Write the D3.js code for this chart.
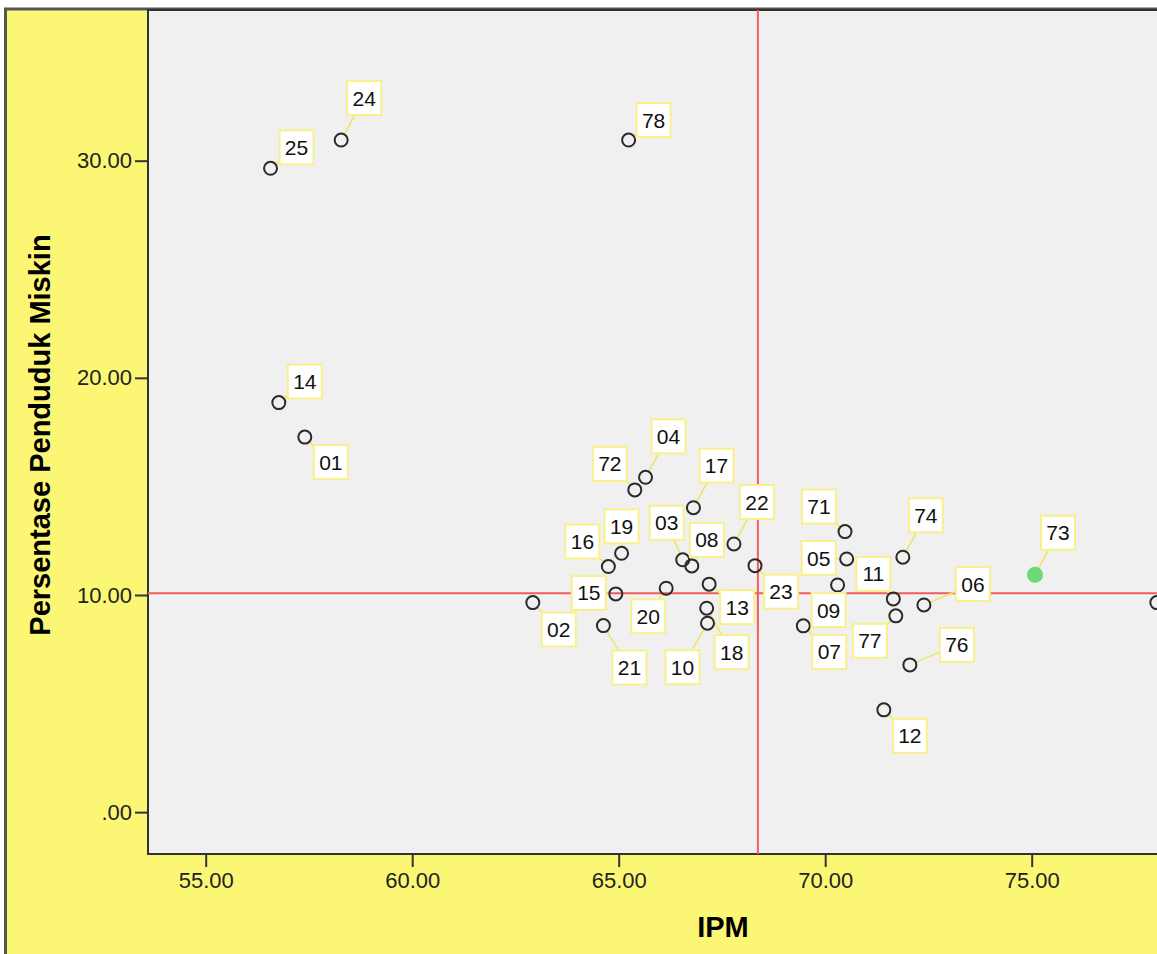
<!DOCTYPE html>
<html>
<head>
<meta charset="utf-8">
<script src="https://cdnjs.cloudflare.com/ajax/libs/d3/7.8.5/d3.min.js"></script>
<style>
    html, body { margin: 0; padding: 0; background: #fff; overflow: hidden; }
    svg { display: block; }
</style>
</head>
<body>
<div id="chart"></div>
<script>
/**
 * Data: kode kab/kota, IPM, persentase penduduk miskin.
 */
var ids = ["25", "24", "78", "14", "01", "04", "72", "17", "22", "19", "16", "03", "08", "23", "15", "20", "13",
    "02", "21", "18", "10", "71", "05", "09", "11", "77", "07", "06", "74", "73", "76", "12", "75"];
var ipm = [56.57, 58.28, 65.24, 56.77, 57.40, 65.65, 65.39, 66.81, 67.79, 65.07, 64.75, 66.55, 66.77, 68.30, 64.93, 66.15, 67.19,
    62.92, 64.63, 67.13, 67.15, 70.48, 70.52, 70.30, 71.65, 71.71, 69.47, 72.39, 71.88, 75.08, 72.05, 71.42, 78.03];
var miskin = [29.65, 30.95, 30.95, 18.86, 17.27, 15.42, 14.84, 14.02, 12.35, 11.92, 11.31, 11.62, 11.34, 11.35, 10.05, 10.31, 10.50,
    9.65, 8.59, 9.39, 8.70, 12.92, 11.66, 10.46, 9.82, 9.04, 8.58, 9.54, 11.74, 10.93, 6.78, 4.71, 9.65];
var highlighted = ["73"];

var xTicks = [55, 60, 65, 70, 75];
var yTicks = [0, 10, 20, 30];
var refIPM = 68.37;
var refMiskin = 10.08;

// label placement (pixels from the point), layout only
var labelOffset = {
    "25": [26, -21], "24": [23, -42], "78": [25, -20], "14": [26, -21], "01": [26, 25],
    "04": [23, -41], "72": [-25, -26], "17": [23, -42], "22": [23, -42], "19": [0, -27],
    "16": [-26, -25], "03": [-16, -37], "08": [15, -26], "23": [26, 26], "15": [-27, -1],
    "20": [-18, 28], "13": [28, 23], "02": [26, 27], "21": [26, 42], "18": [25, 44],
    "10": [-25, 44], "71": [-26, -25], "05": [-28, -1], "09": [-9, 25], "11": [-20, -25],
    "77": [-26, 25], "07": [26, 26], "06": [49, -21], "74": [23, -42], "73": [23, -42],
    "76": [47, -20], "12": [26, 26], "75": [26, -21]
};

var width = 1157;
var height = 954;
var plot = { left: 148, top: 10, right: 1200, bottom: 854 };

var data = ids.map((id, i) => ({ id: id, x: ipm[i], y: miskin[i] }));

var svg = d3.select("#chart").append("svg")
    .attr("width", width)
    .attr("height", height);

var x = d3.scaleLinear()
    .domain([53.603, 53.603 + (plot.right - plot.left) / 41.3])
    .range([plot.left, plot.right]);

var y = d3.scaleLinear()
    .domain([-1.928, 36.94])
    .range([plot.bottom, plot.top]);

// outer frame
svg.append("rect")
    .attr("x", 5.5).attr("y", 9)
    .attr("width", width + 20).attr("height", height + 20)
    .attr("fill", "#fbf775")
    .attr("stroke", "#555")
    .attr("stroke-width", 3);

svg.append("rect")
    .attr("x", plot.left).attr("y", plot.top)
    .attr("width", plot.right - plot.left)
    .attr("height", plot.bottom - plot.top)
    .attr("fill", "#f0f0f0")
    .attr("stroke", "#333")
    .attr("stroke-width", 2);

var xAxis = g => g
    .attr("transform", `translate(0,${plot.bottom})`)
    .call(d3.axisBottom(x)
        .tickValues(xTicks)
        .tickSize(13)
        .tickSizeOuter(0)
        .tickPadding(5)
        .tickFormat(d3.format(".2f")))
    .call(g => g.select(".domain").remove());

var yAxis = g => g
    .attr("transform", `translate(${plot.left},0)`)
    .call(d3.axisLeft(y)
        .tickValues(yTicks)
        .tickSize(13)
        .tickSizeOuter(0)
        .tickPadding(3)
        .tickFormat(d => d === 0 ? ".00" : d3.format(".2f")(d)))
    .call(g => g.select(".domain").remove());

var gx = svg.append("g").attr("class", "x-axis").call(xAxis);
var gy = svg.append("g").attr("class", "y-axis").call(yAxis);

[gx, gy].forEach(g => {
    g.selectAll("line").attr("stroke", "#333").attr("stroke-width", 2);
    g.selectAll("text")
        .attr("fill", "#222")
        .style("font-family", "'Liberation Sans', Arial, sans-serif")
        .style("font-size", "22px");
});

// axis titles
svg.append("text")
    .attr("x", 723).attr("y", 937)
    .attr("text-anchor", "middle")
    .style("font-family", "'Liberation Sans', Arial, sans-serif")
    .style("font-weight", "bold")
    .style("font-size", "29px")
    .text("IPM");

svg.append("text")
    .attr("transform", "translate(50,435) rotate(-90)")
    .attr("text-anchor", "middle")
    .style("font-family", "'Liberation Sans', Arial, sans-serif")
    .style("font-weight", "bold")
    .style("font-size", "29px")
    .text("Persentase Penduduk Miskin");

// reference lines
var refs = svg.append("g").attr("stroke", "#f25c5c").attr("stroke-width", 2);
refs.append("line")
    .attr("x1", x(refIPM)).attr("x2", x(refIPM))
    .attr("y1", plot.top).attr("y2", plot.bottom);
refs.append("line")
    .attr("x1", plot.left).attr("x2", plot.right)
    .attr("y1", y(refMiskin)).attr("y2", y(refMiskin));

var r = 6.5;
var boxSize = 34;

// only labels whose box falls inside the picture are drawn
var labelled = data.filter(d => x(d.x) + labelOffset[d.id][0] + boxSize / 2 < width);

// leader lines
svg.append("g")
    .selectAll("line")
    .data(labelled)
    .enter()
    .append("line")
    .attr("stroke", "#efe565")
    .attr("stroke-width", 1.6)
    .each(function (d) {
        var off = labelOffset[d.id];
        var len = Math.sqrt(off[0] * off[0] + off[1] * off[1]);
        d3.select(this)
            .attr("x1", x(d.x) + off[0] / len * r)
            .attr("y1", y(d.y) + off[1] / len * r)
            .attr("x2", x(d.x) + off[0])
            .attr("y2", y(d.y) + off[1]);
    });

// points
svg.append("g")
    .selectAll("circle")
    .data(data)
    .enter()
    .append("circle")
    .attr("cx", d => x(d.x))
    .attr("cy", d => y(d.y))
    .attr("r", d => highlighted.includes(d.id) ? 8 : r)
    .attr("fill", d => highlighted.includes(d.id) ? "#6bd97a" : "none")
    .attr("stroke", d => highlighted.includes(d.id) ? "none" : "#2a2a2a")
    .attr("stroke-width", 2);

// labels
var label = svg.append("g")
    .selectAll("g")
    .data(labelled)
    .enter()
    .append("g")
    .attr("transform", d => `translate(${x(d.x) + labelOffset[d.id][0]},${y(d.y) + labelOffset[d.id][1]})`);

label.append("rect")
    .attr("x", -boxSize / 2).attr("y", -boxSize / 2)
    .attr("width", boxSize).attr("height", boxSize)
    .attr("fill", "#fff")
    .attr("stroke", "#f8f08c")
    .attr("stroke-width", 2);

label.append("text")
    .attr("text-anchor", "middle")
    .attr("dy", "0.36em")
    .attr("fill", "#111")
    .style("font-family", "'Liberation Sans', Arial, sans-serif")
    .style("font-size", "21px")
    .text(d => d.id);
</script>
</body>
</html>
